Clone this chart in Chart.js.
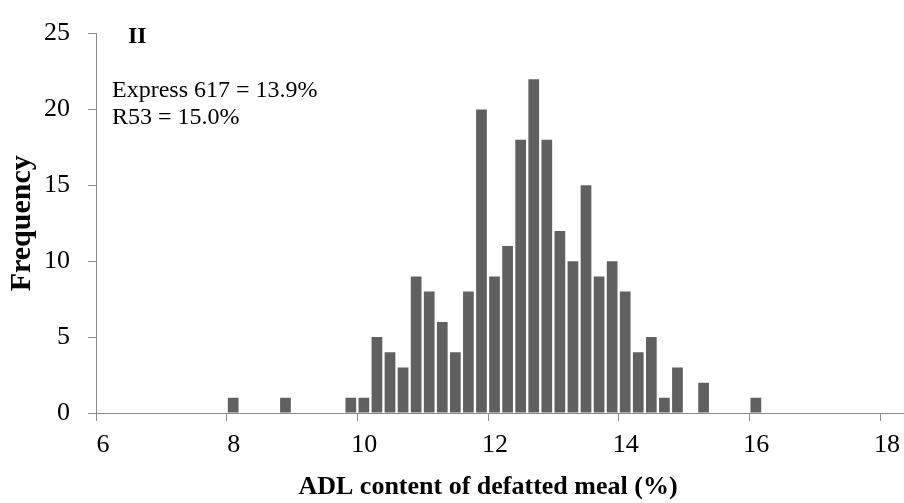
<!DOCTYPE html>
<html>
<head>
<meta charset="utf-8">
<script src="https://cdn.jsdelivr.net/npm/chart.js@4/dist/chart.umd.min.js"></script>
<style>
  html, body { margin: 0; padding: 0; background: #ffffff; }
  #wrap { width: 904px; height: 503px; position: relative; }
</style>
</head>
<body>
<div id="wrap"><canvas id="c" width="904" height="503"></canvas></div>
<script>
// Histogram of ADL content, 0.2 %-wide bins (bin centres and line counts)
const binCentres = [8.1, 8.9, 9.9, 10.1, 10.3, 10.5, 10.7, 10.9, 11.1, 11.3, 11.5, 11.7, 11.9, 12.1, 12.3,
                    12.5, 12.7, 12.9, 13.1, 13.3, 13.5, 13.7, 13.9, 14.1, 14.3, 14.5, 14.7, 14.9, 15.3, 16.1];
const frequencies = [1, 1, 1, 1, 5, 4, 3, 9, 8, 6, 4, 8, 20, 9, 11,
                     18, 22, 18, 12, 10, 15, 9, 10, 8, 4, 5, 1, 3, 2, 1];
const xTickValues = [6, 8, 10, 12, 14, 16, 18];
const yTickValues = [0, 5, 10, 15, 20, 25];
const panelLabel = 'II';
const checkVarieties = ['Express 617 = 13.9%', 'R53 = 15.0%'];
const xTitle = 'ADL content of defatted meal (%)';
const yTitle = 'Frequency';

const SERIF = '"Liberation Serif", "Times New Roman", serif';
const AXIS_GREY = '#8a8a8a';

// Panel label, check-variety values, and the horizontal axis line run out to the edge
const notes = {
  id: 'notes',
  afterDraw(chart) {
    const ctx = chart.ctx;
    const area = chart.chartArea;
    ctx.save();
    ctx.strokeStyle = AXIS_GREY;
    ctx.lineWidth = 1;
    ctx.beginPath();
    ctx.moveTo(area.right, area.bottom + 0.5);
    ctx.lineTo(chart.width, area.bottom + 0.5);
    ctx.stroke();

    ctx.fillStyle = '#000';
    ctx.textAlign = 'left';
    ctx.textBaseline = 'alphabetic';
    ctx.font = 'bold 24px ' + SERIF;
    ctx.fillText(panelLabel, 128, 43);
    ctx.font = '24px ' + SERIF;
    checkVarieties.forEach((t, i) => ctx.fillText(t, 112, 97 + i * 26.5));
    ctx.restore();
  }
};

new Chart(document.getElementById('c'), {
  type: 'bar',
  data: {
    datasets: [{
      data: binCentres.map((x, i) => ({ x: x, y: frequencies[i] })),
      backgroundColor: '#606060',
      borderWidth: 0,
      barPercentage: 0.82,
      categoryPercentage: 1.0
    }]
  },
  options: {
    responsive: false,
    animation: false,
    devicePixelRatio: 1,
    layout: { padding: { top: 24, right: 24, bottom: 0, left: 0 } },
    plugins: { legend: { display: false }, tooltip: { enabled: false } },
    scales: {
      x: {
        type: 'linear',
        min: 6,
        max: 18,
        offset: false,
        afterBuildTicks: s => { s.ticks = xTickValues.map(v => ({ value: v })); },
        afterFit: s => { s.height = 90; },
        grid: { offset: false, drawOnChartArea: false, drawTicks: true, tickLength: 8, color: AXIS_GREY, lineWidth: 1 },
        border: { display: true, color: AXIS_GREY, width: 1 },
        ticks: { color: '#000', font: { family: SERIF, size: 26 }, padding: 9, labelOffset: 7, maxRotation: 0 },
        title: { display: true, text: xTitle, color: '#000', font: { family: SERIF, size: 26, weight: 'bold' }, padding: { top: 0, bottom: 0.5 } }
      },
      y: {
        min: 0,
        max: 25,
        afterBuildTicks: s => { s.ticks = yTickValues.map(v => ({ value: v })); },
        afterFit: s => { s.width = 96; },
        grid: { drawOnChartArea: false, drawTicks: true, tickLength: 8, color: AXIS_GREY, lineWidth: 1 },
        border: { display: true, color: AXIS_GREY, width: 1 },
        ticks: { color: '#000', font: { family: SERIF, size: 26 }, padding: 18 },
        title: { display: true, text: yTitle, color: '#000', font: { family: SERIF, size: 30, weight: 'bold' }, padding: { top: 4, bottom: 0 } }
      }
    }
  },
  plugins: [notes]
});
</script>
</body>
</html>
